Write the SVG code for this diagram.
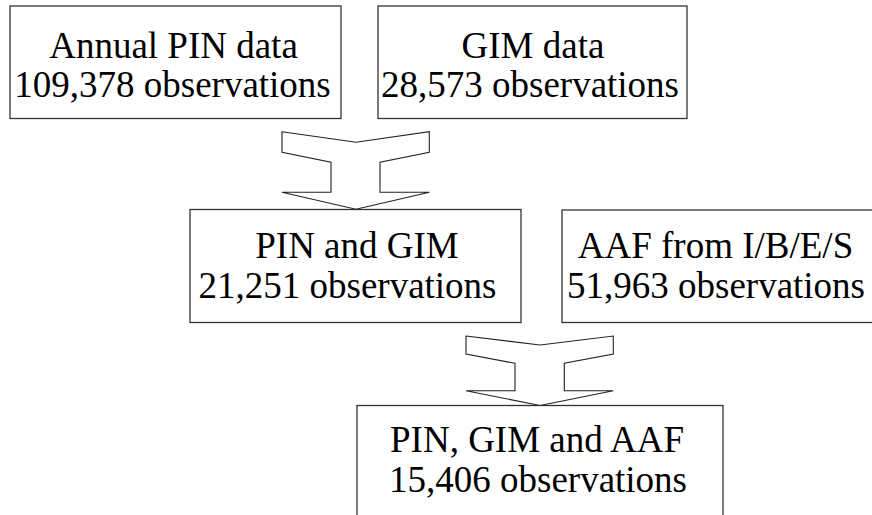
<svg xmlns="http://www.w3.org/2000/svg" width="872" height="515" viewBox="0 0 872 515">
<style>
.box{fill:#fff;stroke:#333;stroke-width:1.3}
.arr{fill:#fff;stroke:#222;stroke-width:1.1;stroke-linejoin:miter}
.t{font-family:'Liberation Serif',Tinos,'DejaVu Serif',serif;font-size:37px;fill:#000;text-anchor:middle}
</style>
<rect width="872" height="515" fill="#fff"/>
<g id="connectors">
<polygon class="arr" points="282,131.7 356,142.3 429.3,131.7 429.3,152.3 380,162.3 380,192.3 429.3,192.3 356,209.3 282,192.3 331,192.3 331,162.3 282,152.3"/>
<polygon class="arr" points="466,336 540,345 613.3,336 613.3,354 564.3,363.3 564.3,390.7 613.3,390.7 540,405.5 466,390.7 515,390.7 515,363.3 466,354"/>
</g>
<g id="pin">
<rect class="box" x="10" y="6" width="331" height="112.5"/>
<text class="t" x="173.5" y="58">Annual PIN data</text>
<text class="t" x="172.5" y="97">109,378 observations</text>
</g>
<g id="gim">
<rect class="box" x="378" y="6" width="309" height="112.5"/>
<text class="t" x="533" y="58">GIM data</text>
<text class="t" x="530" y="97">28,573 observations</text>
</g>
<g id="pin_gim">
<rect class="box" x="190" y="209.5" width="331" height="113"/>
<text class="t" x="357" y="258">PIN and GIM</text>
<text class="t" x="347.5" y="298">21,251 observations</text>
</g>
<g id="aaf">
<rect class="box" x="562" y="210" width="330" height="112.5"/>
<text class="t" x="715.5" y="258">AAF from I/B/E/S</text>
<text class="t" x="716" y="298">51,963 observations</text>
</g>
<g id="all">
<rect class="box" x="357" y="405.5" width="366" height="130"/>
<text class="t" x="537" y="452">PIN, GIM and AAF</text>
<text class="t" x="538" y="492">15,406 observations</text>
</g>
</svg>
